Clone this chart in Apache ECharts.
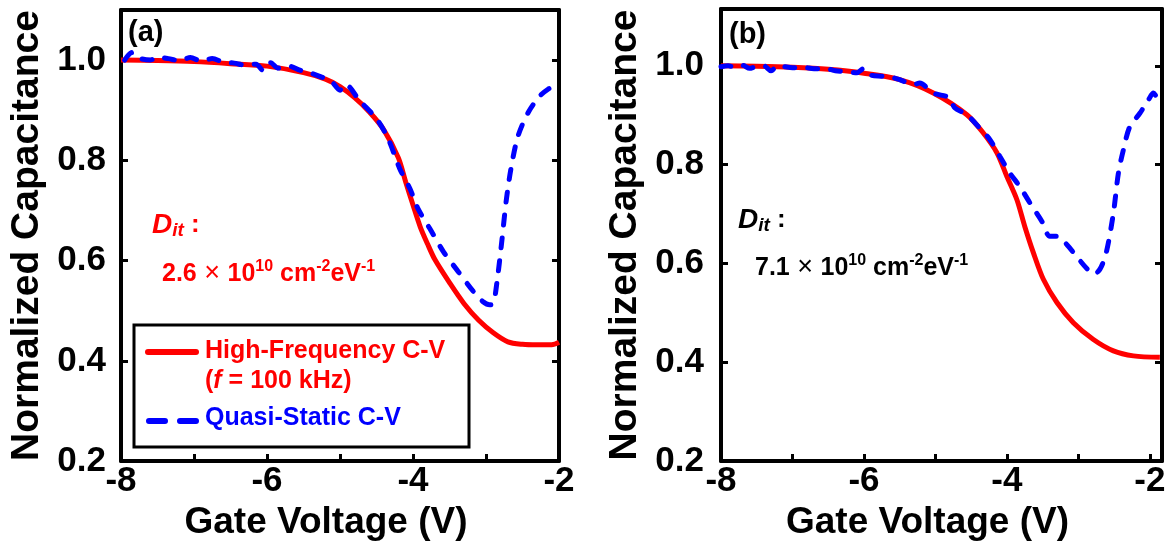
<!DOCTYPE html>
<html>
<head>
<meta charset="utf-8">
<script src="https://cdn.jsdelivr.net/npm/echarts@6/dist/echarts.min.js"></script>
<style>
  html, body { margin: 0; padding: 0; background: #fff; }
  #chart { width: 1172px; height: 546px; }
</style>
</head>
<body>
<div id="chart"></div>
<script>
// panel (a): high-frequency C-V (red) and quasi-static C-V (blue)
var hfVoltA = [-8, -7.5, -7, -6.5, -6, -5.5, -5.2, -5, -4.8, -4.6, -4.4, -4.2, -4.1, -4, -3.9, -3.8, -3.7, -3.5, -3.3, -3.1, -2.9, -2.7, -2.5, -2.3, -2.1, -2.0]
var hfCapA = [1.0, 0.999, 0.997, 0.993, 0.988, 0.975, 0.962, 0.947, 0.925, 0.897, 0.861, 0.805, 0.757, 0.711, 0.667, 0.633, 0.602, 0.556, 0.514, 0.481, 0.456, 0.438, 0.433, 0.432, 0.432, 0.437]
var qsVoltA = [-7.95, -7.85, -7.75, -7.6, -7.5, -7.35, -7.2, -7.05, -6.9, -6.75, -6.6, -6.45, -6.3, -6.15, -6.05, -5.95, -5.85, -5.7, -5.55, -5.4, -5.25, -5.12, -5.0, -4.93, -4.73, -4.5, -4.34, -4.18, -4.04, -3.93, -3.77, -3.58, -3.38, -3.17, -3.04, -2.95, -2.9, -2.85, -2.79, -2.72, -2.65, -2.56, -2.42, -2.26, -2.15, -2.03, -2.0]
var qsCapA = [1.0, 1.015, 1.004, 1.0, 1.006, 1.003, 0.999, 1.005, 0.998, 1.003, 0.996, 0.994, 0.99, 0.992, 0.979, 0.995, 0.984, 0.988, 0.98, 0.974, 0.966, 0.958, 0.94, 0.952, 0.919, 0.883, 0.843, 0.783, 0.743, 0.703, 0.664, 0.617, 0.578, 0.538, 0.518, 0.512, 0.514, 0.557, 0.63, 0.723, 0.79, 0.849, 0.896, 0.929, 0.942, 0.952, 0.955]

// panel (b)
var hfVoltB = [-8, -7.5, -7, -6.5, -6, -5.5, -5.03, -4.56, -4.33, -4.14, -4.0, -3.86, -3.75, -3.63, -3.49, -3.3, -3.07, -2.79, -2.51, -2.23, -1.86]
var hfCapB = [1.0, 0.999, 0.997, 0.993, 0.985, 0.972, 0.945, 0.901, 0.864, 0.824, 0.776, 0.729, 0.675, 0.622, 0.568, 0.521, 0.48, 0.446, 0.423, 0.413, 0.41]
var qsVoltB = [-8, -7.9, -7.8, -7.7, -7.6, -7.5, -7.4, -7.3, -7.2, -7.1, -7.0, -6.85, -6.7, -6.55, -6.4, -6.25, -6.1, -6.0, -5.9, -5.75, -5.6, -5.5, -5.31, -5.22, -5.03, -4.8, -4.73, -4.56, -4.38, -4.24, -4.1, -3.96, -3.82, -3.68, -3.51, -3.4, -3.3, -3.16, -3.03, -2.89, -2.79, -2.7, -2.61, -2.51, -2.44, -2.37, -2.28, -2.14, -2.02, -1.95, -1.91]
var qsCapB = [0.998, 1.0, 0.997, 1.001, 0.995, 0.999, 1.0, 0.99, 1.001, 0.998, 0.996, 0.997, 0.994, 0.995, 0.99, 0.988, 0.986, 0.995, 0.981, 0.979, 0.976, 0.972, 0.962, 0.965, 0.945, 0.935, 0.915, 0.901, 0.874, 0.851, 0.817, 0.783, 0.756, 0.723, 0.685, 0.655, 0.655, 0.638, 0.615, 0.591, 0.578, 0.588, 0.622, 0.702, 0.783, 0.83, 0.877, 0.904, 0.931, 0.945, 0.938]

var xTickLabels = ['-8', '-6', '-4', '-2']
var yTickLabels = ['0.2', '0.4', '0.6', '0.8', '1.0']
var seriesNames = ['High-Frequency C-V', 'Quasi-Static C-V']
var ditTexts = ['2.6', '7.1']

var FONT = "'Liberation Sans', Arial, sans-serif"
var RED = '#ff0000'
var BLUE = '#0000ff'

function pairs(xs, ys) {
  return xs.map(function (x, i) { return [x, ys[i]] })
}

function bottomAxis(gridIndex, max) {
  return {
    type: 'value', gridIndex: gridIndex, position: 'bottom',
    min: -8, max: max, interval: 1,
    name: 'Gate Voltage (V)', nameLocation: 'middle', nameGap: 35,
    nameTextStyle: { fontSize: 37, fontWeight: 'bold', fontFamily: FONT, color: '#000', padding: [0, 28, 0, 0] },
    axisLine: { lineStyle: { color: '#000', width: 4 } },
    axisTick: { inside: true, length: 7, lineStyle: { color: '#000', width: 3 } },
    axisLabel: {
      fontSize: 35, fontWeight: 'bold', fontFamily: FONT, color: '#000', margin: 3,
      showMaxLabel: max === -2,
      formatter: function (v) {
        var s = String(Math.round(v))
        return xTickLabels.indexOf(s) >= 0 && Math.abs(v - Math.round(v)) < 1e-6 ? s : ''
      }
    },
    splitLine: { show: false }
  }
}

function topAxis(gridIndex, max) {
  return {
    type: 'value', gridIndex: gridIndex, position: 'top',
    min: -8, max: max, interval: 1,
    axisLine: { lineStyle: { color: '#000', width: 4 } },
    axisTick: { show: false }, axisLabel: { show: false }, splitLine: { show: false }
  }
}

function leftAxis(gridIndex, max, margin, gap) {
  return {
    type: 'value', gridIndex: gridIndex, position: 'left',
    min: 0.2, max: max, interval: 0.2,
    name: 'Normalized Capacitance', nameLocation: 'middle', nameGap: gap,
    nameTextStyle: { fontSize: 39, fontWeight: 'bold', fontFamily: FONT, color: '#000' },
    axisLine: { lineStyle: { color: '#000', width: 4 } },
    axisTick: { inside: true, length: 7, lineStyle: { color: '#000', width: 3 } },
    axisLabel: {
      fontSize: 35, fontWeight: 'bold', fontFamily: FONT, color: '#000', margin: margin,
      showMaxLabel: false,
      formatter: function (v) {
        var s = v.toFixed(1)
        return yTickLabels.indexOf(s) >= 0 ? s : ''
      }
    },
    splitLine: { show: false }
  }
}

function rightAxis(gridIndex, max) {
  return {
    type: 'value', gridIndex: gridIndex, position: 'right',
    min: 0.2, max: max, interval: 0.2,
    axisLine: { lineStyle: { color: '#000', width: 4 } },
    axisTick: { inside: true, length: 7, lineStyle: { color: '#000', width: 3 } },
    axisLabel: { show: false }, splitLine: { show: false }
  }
}

function hfSeries(idx, data) {
  return {
    name: seriesNames[0], type: 'line', xAxisIndex: idx, yAxisIndex: idx,
    data: data, showSymbol: false, smooth: 0.3,
    lineStyle: { color: RED, width: 5 }
  }
}

function qsSeries(idx, data) {
  return {
    name: seriesNames[1], type: 'line', xAxisIndex: idx, yAxisIndex: idx,
    data: data, showSymbol: false, smooth: 0.3,
    lineStyle: { color: BLUE, width: 5, type: [10, 13], cap: 'round' }
  }
}

function richSet(color) {
  return {
    m: { fill: color, fontSize: 25, fontWeight: 'bold', fontFamily: FONT, lineHeight: 30, verticalAlign: 'middle' },
    x: { fill: color, fontSize: 27, fontFamily: FONT, lineHeight: 30, verticalAlign: 'middle' },
    sup: { fill: color, fontSize: 16, fontWeight: 'bold', fontFamily: FONT, lineHeight: 16, verticalAlign: 'top' },
    d: { fill: color, fontSize: 28, fontWeight: 'bold', fontStyle: 'italic', fontFamily: FONT, lineHeight: 30, verticalAlign: 'middle' },
    sub: { fill: color, fontSize: 19, fontWeight: 'bold', fontStyle: 'italic', fontFamily: FONT, lineHeight: 16, verticalAlign: 'bottom' },
    c: { fill: color, fontSize: 26, fontWeight: 'bold', fontFamily: FONT, lineHeight: 30, verticalAlign: 'middle' }
  }
}

function ditValue(v) {
  return '{m|' + v + '}{x| × }{m|10}{sup|10}{m| cm}{sup|-2}{m|eV}{sup|-1}'
}

var chart = echarts.init(document.getElementById('chart'), null, { renderer: 'canvas' })

chart.setOption({
  animation: false,
  backgroundColor: '#fff',
  grid: [
    { left: 121, right: 613, top: 10, bottom: 83 },
    { left: 721, right: 10, top: 9, bottom: 84 }
  ],
  xAxis: [bottomAxis(0, -2), bottomAxis(1, -1.83), topAxis(0, -2), topAxis(1, -1.83)],
  yAxis: [leftAxis(0, 1.1, 15, 74), leftAxis(1, 1.115, 17, 76), rightAxis(0, 1.1), rightAxis(1, 1.115)],
  series: [
    hfSeries(0, pairs(hfVoltA, hfCapA)),
    qsSeries(0, pairs(qsVoltA, qsCapA)),
    hfSeries(1, pairs(hfVoltB, hfCapB)),
    qsSeries(1, pairs(qsVoltB, qsCapB))
  ],
  graphic: [
    // panel labels
    { type: 'text', x: 128, y: 33, style: { text: '(a)', font: 'bold 29px ' + FONT, fill: '#000', verticalAlign: 'middle' } },
    { type: 'text', x: 729, y: 35, style: { text: '(b)', font: 'bold 29px ' + FONT, fill: '#000', verticalAlign: 'middle' } },
    // Dit annotations
    { type: 'text', x: 152, y: 225, style: { text: '{d|D}{sub|it}{c| :}', rich: richSet(RED), verticalAlign: 'middle' } },
    { type: 'text', x: 162, y: 274, style: { text: ditValue(ditTexts[0]), rich: richSet(RED), verticalAlign: 'middle' } },
    { type: 'text', x: 738, y: 220, style: { text: '{d|D}{sub|it}{c| :}', rich: richSet('#000'), verticalAlign: 'middle' } },
    { type: 'text', x: 755, y: 268, style: { text: ditValue(ditTexts[1]), rich: richSet('#000'), verticalAlign: 'middle' } },
    // legend box in panel (a)
    { type: 'rect', shape: { x: 134, y: 325, width: 335, height: 122 }, style: { fill: '#fff', stroke: '#000', lineWidth: 3 }, z: 10 },
    { type: 'line', shape: { x1: 148, y1: 352, x2: 196, y2: 352 }, style: { stroke: RED, lineWidth: 6, lineCap: 'round' }, z: 11 },
    { type: 'line', shape: { x1: 149, y1: 421, x2: 196, y2: 421 }, style: { stroke: BLUE, lineWidth: 6, lineCap: 'round', lineDash: [16, 15] }, z: 11 },
    { type: 'text', x: 205, y: 351, z: 11, style: { text: seriesNames[0], font: 'bold 25px ' + FONT, fill: RED, verticalAlign: 'middle' } },
    { type: 'text', x: 205, y: 381, z: 11, style: {
        text: '{n|(}{i|f}{n| = 100 kHz)}', verticalAlign: 'middle',
        rich: {
          n: { fill: RED, fontSize: 25, fontWeight: 'bold', fontFamily: FONT },
          i: { fill: RED, fontSize: 25, fontWeight: 'bold', fontStyle: 'italic', fontFamily: FONT }
        }
      } },
    { type: 'text', x: 205, y: 418, z: 11, style: { text: seriesNames[1], font: 'bold 25px ' + FONT, fill: BLUE, verticalAlign: 'middle' } }
  ]
})
</script>
</body>
</html>
